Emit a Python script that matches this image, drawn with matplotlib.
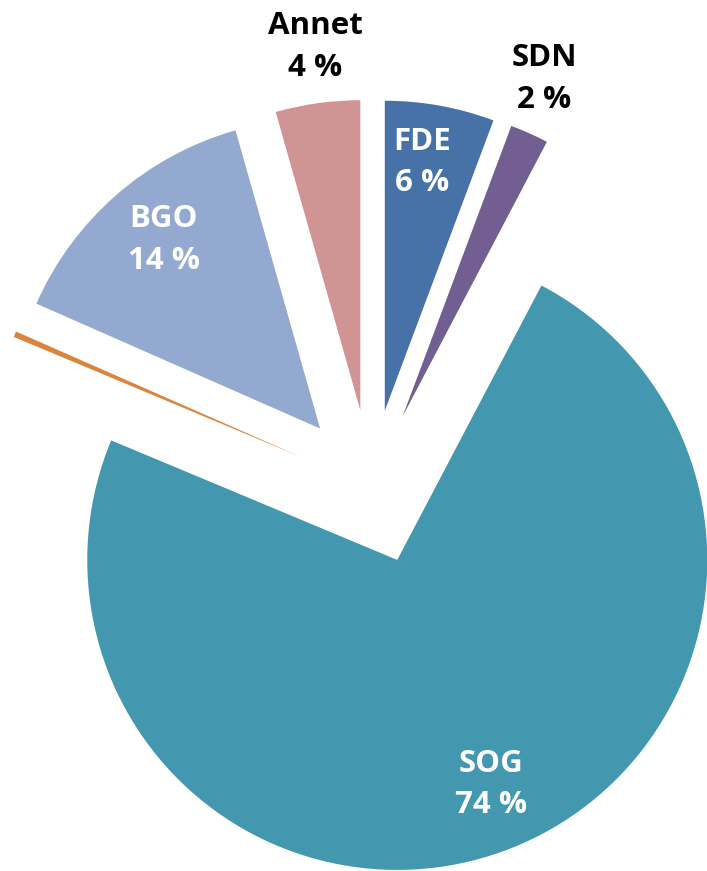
import numpy as np
import matplotlib.pyplot as plt

# slices, clockwise from 12 o'clock
names = ['FDE', 'SDN', 'SOG', 'Other', 'BGO', 'Annet']
shares = [5.7, 2.0, 73.6, 0.3, 14.0, 4.4]
pct_labels = ['6 %', '2 %', '74 %', '', '14 %', '4 %']
colors = ['#4672A8', '#725E91', '#4398B0', '#DB843D', '#93A9CF', '#D09494']

# label placement: angle (deg clockwise from top), distance from pie centre (radii)
label_angle = [8.9, 23.0, 158.0, None, 320.0, 352.8]
label_dist = [1.06, 1.43, 1.035, None, 1.04, 1.43]
label_color = ['white', 'black', 'white', None, 'white', 'black']

plt.rcParams['font.family'] = ['Open Sans', 'DejaVu Sans']

fig = plt.figure(figsize=(7.07, 8.71), dpi=100)
ax = fig.add_axes([0, 0, 1, 1])

wedges, _ = ax.pie(shares, colors=colors, startangle=90, counterclock=False,
                   explode=[0.25] * len(shares), radius=1.0,
                   wedgeprops=dict(linewidth=0))

for name, pct, a, d, c in zip(names, pct_labels, label_angle, label_dist, label_color):
    if d is None:
        continue
    t = np.deg2rad(90 - a)
    ax.text(d * np.cos(t), d * np.sin(t), f'{name}\n{pct}', ha='center', va='center',
            color=c, fontsize=22.5, fontweight='bold', linespacing=1.5)

# pie centre at (371, 487) px, radius 310 px
s = 310.0
ax.set_xlim(-371 / s, (707 - 371) / s)
ax.set_ylim(-(871 - 487) / s, 487 / s)
ax.set_aspect('auto')
ax.axis('off')

fig.savefig('out.png', dpi=100)
